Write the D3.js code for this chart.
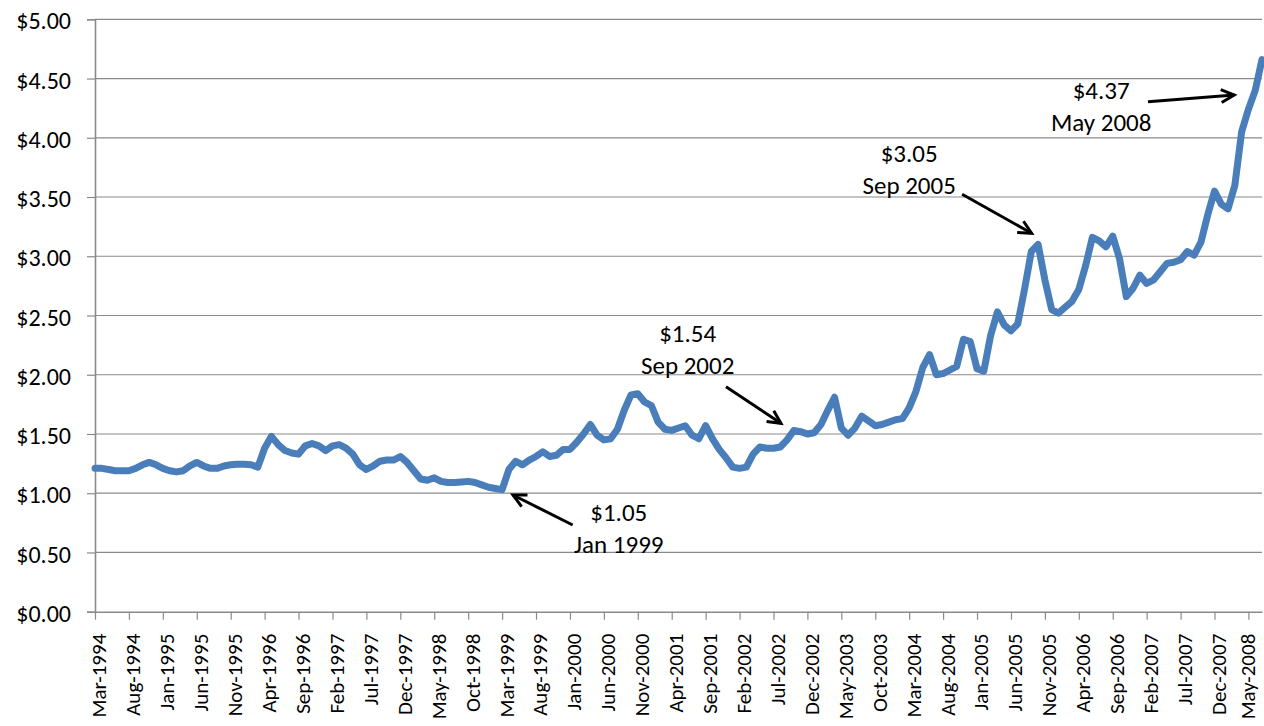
<!DOCTYPE html>
<html>
<head>
<meta charset="utf-8">
<script src="https://cdn.jsdelivr.net/npm/d3@7/dist/d3.min.js"></script>
<style>
body { margin: 0; background: #fff; }
text { font-family: Carlito, Calibri, Lato, sans-serif; fill: #000; }
</style>
</head>
<body>
<div id="chart"></div>
<script>
// monthly price, Mar-1994 .. Jul-2008
var fmtMonth = d3.timeFormat("%b-%Y");
var months = d3.timeMonth.range(new Date(1994, 2, 1), new Date(2008, 7, 1)).map(fmtMonth);

var prices = [
    1.21, 1.21, 1.20, 1.19, 1.19, 1.19, 1.21, 1.24, 1.26, 1.24,                  // 1994 (Mar-Dec)
    1.21, 1.19, 1.18, 1.19, 1.23, 1.26, 1.23, 1.21, 1.21, 1.23, 1.24, 1.245,     // 1995
    1.245, 1.24, 1.22, 1.38, 1.48, 1.41, 1.36, 1.34, 1.33, 1.40, 1.42, 1.40,     // 1996
    1.36, 1.40, 1.41, 1.38, 1.33, 1.24, 1.20, 1.23, 1.27, 1.28, 1.28, 1.31,      // 1997
    1.26, 1.19, 1.12, 1.11, 1.13, 1.10, 1.09, 1.09, 1.095, 1.10, 1.09, 1.07,     // 1998
    1.05, 1.04, 1.03, 1.20, 1.27, 1.24, 1.28, 1.31, 1.35, 1.31, 1.32, 1.37,      // 1999
    1.37, 1.43, 1.50, 1.58, 1.49, 1.45, 1.46, 1.54, 1.70, 1.83, 1.84, 1.77,      // 2000
    1.74, 1.60, 1.54, 1.53, 1.55, 1.57, 1.49, 1.46, 1.57, 1.46, 1.37, 1.30,      // 2001
    1.22, 1.21, 1.22, 1.33, 1.39, 1.38, 1.38, 1.39, 1.45, 1.53, 1.52, 1.50,      // 2002
    1.51, 1.58, 1.70, 1.81, 1.55, 1.49, 1.55, 1.65, 1.61, 1.57, 1.58, 1.60,      // 2003
    1.62, 1.63, 1.72, 1.86, 2.06, 2.17, 2.00, 2.01, 2.04, 2.07, 2.30, 2.28,      // 2004
    2.05, 2.03, 2.33, 2.53, 2.42, 2.37, 2.43, 2.72, 3.04, 3.10, 2.80, 2.55,      // 2005
    2.52, 2.57, 2.62, 2.72, 2.92, 3.16, 3.13, 3.08, 3.17, 2.98, 2.66, 2.73,      // 2006
    2.84, 2.77, 2.80, 2.87, 2.94, 2.95, 2.97, 3.04, 3.01, 3.12, 3.35, 3.55,      // 2007
    3.44, 3.40, 3.60, 4.05, 4.24, 4.40, 4.66                                     // 2008 (Jan-Jul)
];

var tickLabels = ["Mar-1994","Aug-1994","Jan-1995","Jun-1995","Nov-1995","Apr-1996","Sep-1996",
    "Feb-1997","Jul-1997","Dec-1997","May-1998","Oct-1998","Mar-1999","Aug-1999","Jan-2000",
    "Jun-2000","Nov-2000","Apr-2001","Sep-2001","Feb-2002","Jul-2002","Dec-2002","May-2003",
    "Oct-2003","Mar-2004","Aug-2004","Jan-2005","Jun-2005","Nov-2005","Apr-2006","Sep-2006",
    "Feb-2007","Jul-2007","Dec-2007","May-2008"];

var yTicks = [0, 0.5, 1, 1.5, 2, 2.5, 3, 3.5, 4, 4.5, 5];

// callouts: text position, arrow tail and tip, in (month index, price)
var noteLabels = ["$1.05", "$1.54", "$3.05", "$4.37"];
var noteDates = ["Jan 1999", "Sep 2002", "Sep 2005", "May 2008"];
var noteText = [[77.2, 0.768], [87.35, 2.279], [120.0, 3.798], [148.3, 4.327]];
var noteTail = [[70.4, 0.732], [93.0, 1.899], [127.8, 3.523], [155.2, 4.305]];
var noteTip = [[61.6, 0.985], [101.1, 1.590], [138.05, 3.194], [167.9, 4.361]];

var margin = {top: 19.3, right: 2, bottom: 114.3, left: 95},
    width = 1264 - margin.left - margin.right,
    height = 726 - margin.top - margin.bottom;

var svg = d3.select("#chart").append("svg")
    .attr("width", 1264)
    .attr("height", 726)
    .append("g")
    .attr("transform", "translate(" + margin.left + "," + margin.top + ")");

var x = d3.scalePoint()
    .domain(months)
    .range([0, width]);

var y = d3.scaleLinear()
    .domain([0, 5])
    .range([height, 0]);

function xi(i) { return x(months[0]) + i * x.step(); }

var defs = svg.append("defs");
defs.append("marker")
    .attr("id", "head")
    .attr("markerUnits", "userSpaceOnUse")
    .attr("viewBox", "-2 -10 20 20")
    .attr("markerWidth", 20)
    .attr("markerHeight", 20)
    .attr("refX", 13)
    .attr("refY", 0)
    .attr("orient", "auto")
    .append("path")
    .attr("d", "M0,-6.5L13,0L0,6.5")
    .attr("fill", "none")
    .attr("stroke", "#000")
    .attr("stroke-width", 3);

// gridlines
svg.selectAll(".grid")
    .data(yTicks.slice(1))
    .enter().append("line")
    .attr("class", "grid")
    .attr("x1", 0)
    .attr("x2", width)
    .attr("y1", function(d){ return y(d); })
    .attr("y2", function(d){ return y(d); })
    .attr("stroke", "#8a8a8a")
    .attr("stroke-width", 1.2);

// y axis
var yAxis = svg.append("g")
    .call(d3.axisLeft(y).tickValues(yTicks).tickSize(8).tickPadding(16)
        .tickFormat(function(d){ return "$" + d3.format(".2f")(d); }));
yAxis.select(".domain").attr("stroke", "#8a8a8a").attr("stroke-width", 1.6);
yAxis.selectAll(".tick line").attr("stroke", "#8a8a8a").attr("stroke-width", 1.2);
yAxis.selectAll(".tick text")
    .style("font-size", "24px")
    .attr("dy", "0.4em");

// x axis
var xAxis = svg.append("g")
    .attr("transform", "translate(0," + height + ")")
    .call(d3.axisBottom(x).tickValues(tickLabels).tickSize(8).tickSizeOuter(0));
xAxis.select(".domain").attr("stroke", "#8a8a8a").attr("stroke-width", 1.6);
xAxis.selectAll(".tick line").attr("stroke", "#8a8a8a").attr("stroke-width", 1.2);
xAxis.selectAll(".tick text")
    .style("font-size", "21px")
    .attr("text-anchor", "end")
    .attr("transform", "rotate(-90)")
    .attr("x", -22)
    .attr("y", 0)
    .attr("dy", function(d, i){ return i === tickLabels.length - 1 ? "0.3em" : "0.52em"; })
    .attr("dx", 0);

// price line
var line = d3.line()
    .x(function(d, i){ return x(months[i]); })
    .y(function(d){ return y(d); });

svg.append("path")
    .datum(prices)
    .attr("d", line)
    .attr("fill", "none")
    .attr("stroke", "#4a7ebb")
    .attr("stroke-width", 7)
    .attr("stroke-linejoin", "round")
    .attr("stroke-linecap", "round");

// callouts
var notes = svg.selectAll(".note")
    .data(noteLabels)
    .enter().append("g")
    .attr("class", "note");

notes.append("text")
    .attr("x", function(d, i){ return xi(noteText[i][0]); })
    .attr("y", function(d, i){ return y(noteText[i][1]); })
    .attr("text-anchor", "middle")
    .style("font-size", "25px")
    .text(function(d){ return d; })
    .append("tspan")
    .attr("x", function(d, i){ return xi(noteText[i][0]); })
    .attr("dy", "1.28em")
    .text(function(d, i){ return noteDates[i]; });

notes.append("line")
    .attr("x1", function(d, i){ return xi(noteTail[i][0]); })
    .attr("y1", function(d, i){ return y(noteTail[i][1]); })
    .attr("x2", function(d, i){ return xi(noteTip[i][0]); })
    .attr("y2", function(d, i){ return y(noteTip[i][1]); })
    .attr("stroke", "#000")
    .attr("stroke-width", 3)
    .attr("marker-end", "url(#head)");
</script>
</body>
</html>
